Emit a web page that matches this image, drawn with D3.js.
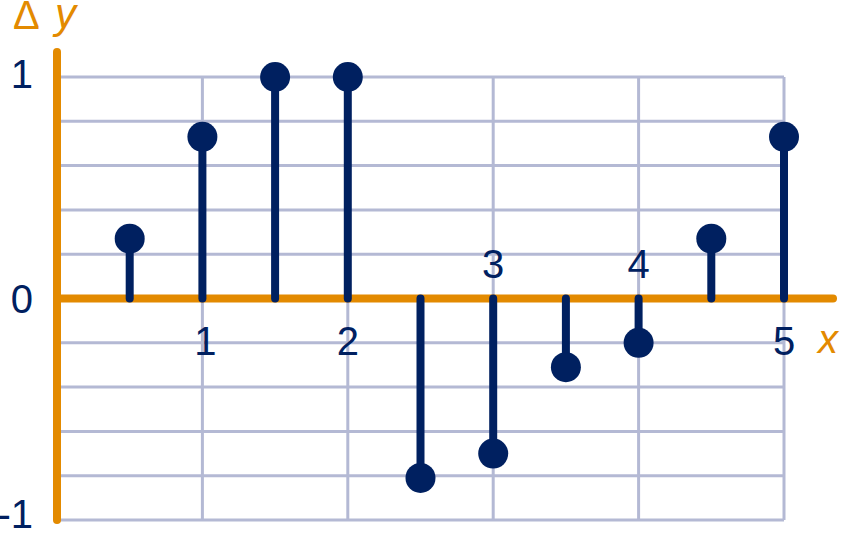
<!DOCTYPE html>
<html><head><meta charset="utf-8">
<script src="https://cdn.jsdelivr.net/npm/d3@7"></script>
<style>html,body{margin:0;padding:0;background:#fff;}svg{display:block;}</style>
</head><body>
<svg id="c" width="841" height="534"></svg>
<script>
const xs = [0.5, 1, 1.5, 2, 2.5, 3, 3.5, 4, 4.5, 5];
const dy = [0.27, 0.73, 1, 1, -0.81, -0.70, -0.31, -0.20, 0.27, 0.73];
const xTicks = [1, 2, 3, 4, 5];
const xTickAbove = [false, false, true, true, false];
const yTicks = [-1, 0, 1];
const yTickLabels = ["-1", "0", "1"];
const hGrid = [-1, -0.8, -0.6, -0.4, -0.2, 0, 0.2, 0.4, 0.6, 0.8, 1];

const NAVY = "#002060", ORANGE = "#e38a00", GRID = "#b4b9d4";
const svg = d3.select("#c");
const x = d3.scaleLinear().domain([0, 5]).range([57, 784]);
const y = d3.scaleLinear().domain([-1, 1]).range([520, 77]);
const font = "'Liberation Sans', Arial, sans-serif";

// grid
svg.append("g").selectAll("line").data(hGrid).join("line")
  .attr("x1", x(0)).attr("x2", x(5)).attr("y1", d => y(d)).attr("y2", d => y(d))
  .attr("stroke", GRID).attr("stroke-width", 3);
svg.append("g").selectAll("line").data(xTicks).join("line")
  .attr("x1", d => x(d)).attr("x2", d => x(d)).attr("y1", y(1)).attr("y2", y(-1))
  .attr("stroke", GRID).attr("stroke-width", 3);

// axes
svg.append("line").attr("x1", x(0)).attr("x2", 833).attr("y1", y(0)).attr("y2", y(0))
  .attr("stroke", ORANGE).attr("stroke-width", 8).attr("stroke-linecap", "round");
svg.append("line").attr("x1", x(0)).attr("x2", x(0)).attr("y1", 52).attr("y2", y(-1))
  .attr("stroke", ORANGE).attr("stroke-width", 8).attr("stroke-linecap", "round");

// stems
const pts = xs.map((v, i) => ({x: v, y: dy[i]}));
svg.append("g").selectAll("line").data(pts).join("line")
  .attr("x1", d => x(d.x)).attr("x2", d => x(d.x)).attr("y1", y(0)).attr("y2", d => y(d.y))
  .attr("stroke", NAVY).attr("stroke-width", 8).attr("stroke-linecap", "round");
svg.append("g").selectAll("circle").data(pts).join("circle")
  .attr("cx", d => x(d.x)).attr("cy", d => y(d.y)).attr("r", 15).attr("fill", NAVY);

// x tick labels
svg.append("g").selectAll("text").data(xTicks).join("text")
  .attr("x", (d, i) => x(d) + (i === 0 ? 3 : 0))
  .attr("y", (d, i) => xTickAbove[i] ? 278 : 355)
  .attr("text-anchor", "middle").attr("fill", NAVY)
  .attr("font-family", font).attr("font-size", 40).text(d => d);

// y tick labels
svg.append("g").selectAll("text").data(yTicks).join("text")
  .attr("x", 33).attr("y", d => y(d) + 14 - (d === 1 ? 3 : 0) - (d === -1 ? 6 : 0))
  .attr("text-anchor", "end").attr("fill", NAVY)
  .attr("font-family", font).attr("font-size", 40).text((d, i) => yTickLabels[i]);

// axis titles
svg.append("text").attr("x", 13).attr("y", 29).attr("fill", ORANGE)
  .attr("font-family", font).attr("font-size", 40).text("Δ");
svg.append("text").attr("x", 55).attr("y", 28).attr("fill", ORANGE)
  .attr("font-family", font).attr("font-size", 42).attr("font-style", "italic").text("y");
svg.append("text").attr("x", 818).attr("y", 353).attr("fill", ORANGE)
  .attr("font-family", font).attr("font-size", 40).attr("font-style", "italic").text("x");
</script>
</body></html>
